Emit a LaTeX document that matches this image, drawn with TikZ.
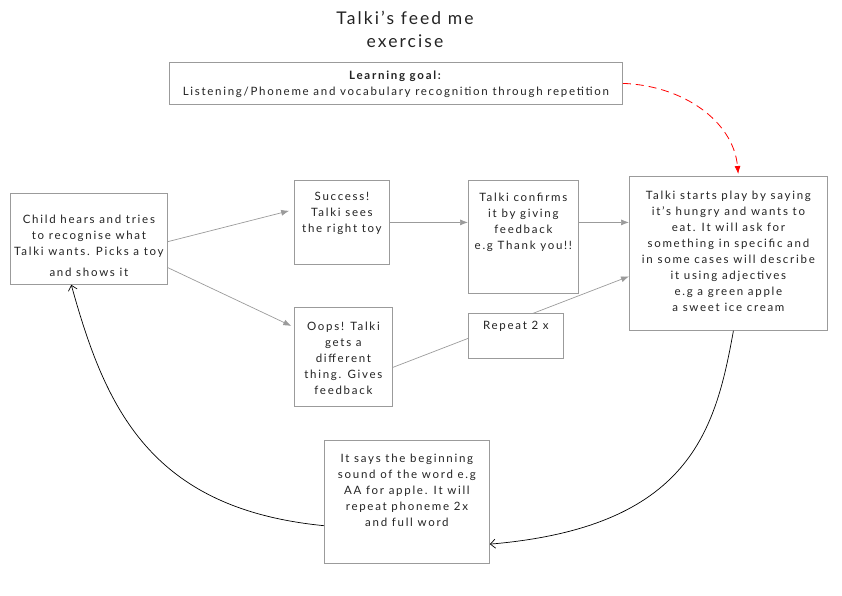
\documentclass[tikz,border=0pt]{standalone}
\usepackage{fontspec}
\setmainfont{Lato}[LetterSpace=15]
\newfontfamily\titlefont{Lato}[LetterSpace=12]
\usepackage{xcolor}
\usetikzlibrary{arrows.meta,backgrounds}
\definecolor{linegray}{RGB}{155,155,155}
\definecolor{ink}{RGB}{35,35,35}
\tikzstyle{card}=[draw=linegray,line width=0.8pt,fill=white,inner sep=0pt,anchor=north west,text=ink,font=\fontsize{11.5}{16}\selectfont]
\tikzstyle{flow}=[draw=linegray,line width=0.7pt,-{Latex[length=8pt,width=6pt]}]
\tikzstyle{backflow}=[draw=black,line width=0.7pt,-{Straight Barb[length=5pt,width=9pt]}]
\tikzstyle{hint}=[draw=red,line width=0.8pt,dash pattern=on 8pt off 5pt,-{Latex[length=8pt,width=6pt]}]
\newcommand{\cardtext}[4]{\parbox[t][#2][t]{#1}{\centering\rule{0pt}{#3}#4}}

\begin{document}
\begin{tikzpicture}[x=1pt,y=-1pt]
    \useasboundingbox (0,0) rectangle (842,595);
    \node[align=center,text=ink,font=\titlefont\fontsize{17.5}{23}\selectfont] (title) at (405,29) {Talki’s feed me\\exercise};
    \node[card] (goal) at (169,62) {\cardtext{453pt}{42pt}{17pt}{\textbf{Learning goal:}\\Listening/Phoneme and vocabulary recognition through repetition}\hspace{20pt}};
    \node[card] (child) at (10,193) {\cardtext{157pt}{91pt}{30pt}{Child hears and tries\\to recognise what\\Talki wants. Picks a toy\\[5pt]and shows it}};
    \node[card] (success) at (294,180) {\cardtext{95pt}{84pt}{20pt}{Success!\\Talki sees\\the right toy}};
    \node[card] (confirm) at (468,180) {\cardtext{110pt}{113pt}{21pt}{Talki confirms\\it by giving\\feedback\\e.g Thank you!!}};
    \node[card] (starts) at (629,176) {\cardtext{198pt}{154pt}{23pt}{Talki starts play by saying\\it’s hungry and wants to\\eat. It will ask for\\something in specific and\\in some cases will describe\\it using adjectives\\e.g a green apple\\a sweet ice cream}};
    \node[card] (oops) at (294,307) {\cardtext{98pt}{99pt}{23.5pt}{Oops! Talki\\gets a\\different\\thing. Gives\\feedback}};
    \node[card] (repeat) at (468,313) {\cardtext{95pt}{45pt}{16pt}{Repeat 2 x}};
    \node[card] (itsays) at (324,440) {\cardtext{165pt}{123pt}{22pt}{It says the beginning\\sound of the word e.g\\AA for apple. It will\\repeat phoneme 2x\\and full word}};
    \begin{scope}[on background layer]
    \draw[flow] (oops.-12) -- (starts.193);
    \end{scope}
    \draw[flow,shorten >=5pt] (child.-2) -- (success.165);
    \draw[flow,shorten >=3pt] (child.-20) -- (oops.149);
    \draw[flow] (success.east) -- (success.east -| confirm.west);
    \draw[flow] (success.east -| confirm.east) -- (success.east -| starts.west);
    \draw[hint,shorten >=2pt] (goal.east) .. controls +(60,2) and +(-5,-55) .. ([xshift=10pt]starts.north);
    \draw[backflow] ([xshift=5pt]starts.south) .. controls +(-18,100) and +(200,-17) .. (itsays.-27);
    \draw[backflow] (itsays.196) .. controls +(-174,-17) and +(34,123) .. (child.249);
  \end{tikzpicture}
\end{document}
